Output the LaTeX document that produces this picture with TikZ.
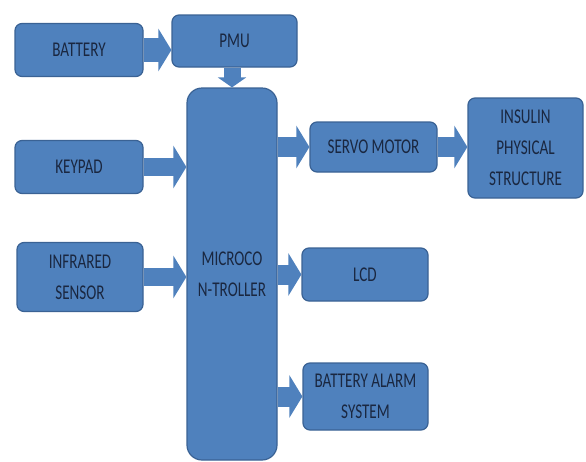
\documentclass[tikz,border=0pt]{standalone}
\usepackage{fontspec}
\setmainfont{Carlito}[FakeStretch=0.72]
\usetikzlibrary{arrows.meta,positioning}
\definecolor{boxblue}{HTML}{4F81BD}
\definecolor{boxline}{HTML}{3A6294}
\definecolor{boxtext}{HTML}{1A2740}
\tikzset{
  block/.style={draw=boxline,line width=1.2pt,fill=boxblue,rounded corners=7pt,
    text=boxtext,align=center,font=\fontsize{21}{31}\selectfont,inner sep=2pt},
  blockarrow/.style={draw=boxblue,line width=20pt,-{Triangle[length=13pt,width=42pt]}}
}

\begin{document}
\begin{tikzpicture}[x=1pt,y=-1pt]
\useasboundingbox (0,0) rectangle (586,461);
\node[block,minimum width=128pt,minimum height=53pt] (battery) at (79,50) {BATTERY};
\node[block,minimum width=125pt,minimum height=52pt] (pmu) at (234.5,41) {PMU};
\node[block,minimum width=128pt,minimum height=53pt] (keypad) at (79,167) {KEYPAD};
\node[block,minimum width=126pt,minimum height=69pt] (infrared) at (80,277) {INFRARED\\SENSOR};
\node[block,rounded corners=15pt,minimum width=90pt,minimum height=372pt] (micro) at (232,274) {MICROCO\\N-TROLLER};
\node[block,minimum width=127pt,minimum height=50pt] (servo) at (373.5,147) {SERVO MOTOR};
\node[block,minimum width=115pt,minimum height=100pt] (insulin) at (525.5,148) {INSULIN\\PHYSICAL\\STRUCTURE};
\node[block,minimum width=126pt,minimum height=53pt] (lcd) at (365,274.5) {LCD};
\node[block,minimum width=125pt,minimum height=67pt] (alarm) at (365.5,396.5) {BATTERY ALARM\\SYSTEM};
\draw[blockarrow,line width=24pt] (battery.east) -- (battery.east -| pmu.west);
\draw[blockarrow,line width=17pt,-{Triangle[length=10pt,width=28pt]}] (pmu.south -| micro) -- (micro.north);
\draw[blockarrow,line width=18pt] (keypad.east) -- (keypad.east -| micro.west);
\draw[blockarrow,line width=18pt] (infrared.east) -- (infrared.east -| micro.west);
\draw[blockarrow] (micro.east |- servo.west) -- (servo.west);
\draw[blockarrow] (servo.east) -- (servo.east -| insulin.west);
\draw[blockarrow] (micro.east |- lcd.west) -- (lcd.west);
\draw[blockarrow] (micro.east |- alarm.west) -- (alarm.west);
\end{tikzpicture}
\end{document}
